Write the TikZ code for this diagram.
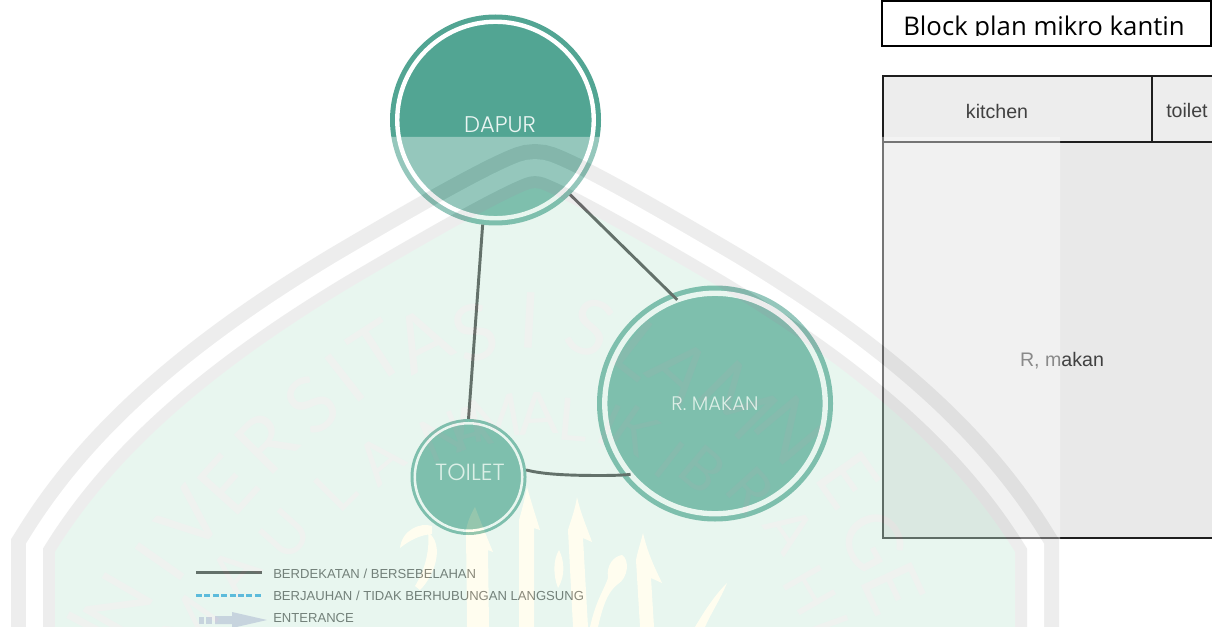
\documentclass[tikz,border=0pt]{standalone}
\usepackage{fontspec}
\setmainfont{Liberation Sans}
\newfontfamily\geofont{Poppins Light}
\newfontfamily\titlefont{Open Sans}
\newfontfamily\wmfont{Lato}
\definecolor{roomgreen}{HTML}{52A593}
\definecolor{roomtext}{HTML}{EAF5F2}
\definecolor{edgedark}{HTML}{272727}
\definecolor{legendtext}{HTML}{404040}
\definecolor{legendblue}{HTML}{1A9FDF}
\definecolor{legendarrow}{HTML}{C9C8E4}
\definecolor{blockdark}{HTML}{1E1E1E}
\definecolor{blockfill}{HTML}{E9E9E9}
\definecolor{cellfill}{HTML}{EDEDED}
\definecolor{blocktext}{HTML}{404040}
\definecolor{wmband}{RGB}{211,211,211}
\definecolor{wminner}{RGB}{196,232,214}
\definecolor{wmletter}{RGB}{216,222,214}
\definecolor{wmyellow}{RGB}{255,252,215}
\tikzset{
  room/.style={circle,fill=roomgreen,inner sep=0pt,outer sep=0pt,minimum size=#1*0.75pt},
  roomring/.style={circle,draw=white,inner sep=0pt,outer sep=0pt,minimum size=#1*0.75pt},
  roomlabel/.style={inner sep=0pt,text=roomtext},
  edgeline/.style={draw=edgedark,line width=2.2pt},
  legendlabel/.style={inner sep=0pt,anchor=west,text=legendtext,font=\fontsize{9.8pt}{11pt}\selectfont},
  blocklabel/.style={inner sep=0pt,text=blocktext,font=\fontsize{14.7pt}{17pt}\selectfont},
  blockline/.style={draw=blockdark,line width=1.8pt},
  wmbig/.style={inner sep=0pt,text=wmletter,font=\wmfont\fontsize{58pt}{58pt}\selectfont},
  wmsmall/.style={inner sep=0pt,text=wmletter,font=\wmfont\fontsize{44pt}{44pt}\selectfont},
}
\def\shieldpath{(55,700) -- (55,552) .. controls (115,455) and (210,372) .. (351,287)
  .. controls (445,231.5) and (504,199) .. (529,189.3)
  .. controls (533,187.8) and (537,187.8) .. (541,189.3)
  .. controls (566,199) and (625,231.5) .. (719,287)
  .. controls (860,372) and (955,455) .. (1015,552) -- (1015,700) -- cycle}
\begin{document}
\begin{tikzpicture}[x=0.75pt,y=-0.75pt]
\useasboundingbox (0,0) rectangle (1212,627);
\fill[white] (0,0) rectangle (1212,627);

% circles
\node[room=211] (dapur) at (495.5,120) {};
\node[roomring=196.5,line width=3.3pt] (dapurin) at (495.5,120) {};
\node[room=236] (rmakan) at (715,403.5) {};
\node[roomring=220.5,line width=4pt] (rmakanin) at (715,403.5) {};
\node[room=116] (toilet) at (468.5,477) {};
\node[roomring=107.5,line width=1.9pt] (toiletin) at (468.5,477) {};

\node[roomlabel,font=\geofont\fontsize{17pt}{20pt}\selectfont] (dapurlabel) at (500,125) {DAPUR};
\node[roomlabel,font=\geofont\fontsize{14.7pt}{17pt}\selectfont] (rmakanlabel) at (715,403.5) {R. MAKAN};
\node[roomlabel,font=\geofont\fontsize{17.5pt}{20pt}\selectfont] (toiletlabel) at (470,472.5) {TOILET};

% connectors
\draw[edgeline] (dapur.263) -- (toilet.90);
\draw[edgeline] (dapur.-45) -- (rmakanin.110);
\draw[edgeline] (toilet.7) .. controls (540,473.5) and (560,475.5) .. (600,475.5) .. controls (615,475.5) and (625,475) .. (rmakanin.220.7);

% legend
\coordinate (solidA) at (196,572.5); \coordinate (solidB) at (262,572.5);
\coordinate (dashA) at (196,595.5); \coordinate (dashB) at (262,595.5);
\draw[draw=edgedark,line width=2.6pt] (solidA) -- (solidB);
\draw[draw=legendblue,line width=2.3pt,dash pattern=on 4.5pt off 1.8pt] (dashA) -- (dashB);
\fill[legendarrow] (199,617) rectangle (204,624);
\fill[legendarrow] (206,617) rectangle (212,624);
\fill[legendarrow] (215,616) -- (232,616) -- (232,612) -- (267,620) -- (232,628) -- (232,624) -- (215,624) -- cycle;
\node[legendlabel] (legendone) at (273,573.5) {BERDEKATAN / BERSEBELAHAN};
\node[legendlabel] (legendtwo) at (273,596) {BERJAUHAN / TIDAK BERHUBUNGAN LANGSUNG};
\node[legendlabel] (legendthree) at (273,618) {ENTERANCE};

% block plan
\node[fill=cellfill,inner sep=0pt,outer sep=0pt,minimum width=269*0.75pt,minimum height=66*0.75pt] (kitchen) at (1017.5,109) {};
\node[fill=cellfill,inner sep=0pt,outer sep=0pt,minimum width=60*0.75pt,minimum height=66*0.75pt] (toiletcell) at (1182,109) {};
\node[fill=blockfill,inner sep=0pt,outer sep=0pt,minimum width=329*0.75pt,minimum height=396*0.75pt] (rblock) at (1047.5,340) {};
\node[blocklabel] (kitchenlabel) at (997,111) {kitchen};
\node[blocklabel,anchor=west] (toiletlabelb) at (1166,110) {toilet};
\node[blocklabel] (rlabel) at (1062,361) {R, makan};
\draw[blockline] (1212,76) -- (883,76) -- (883,538) -- (1212,538);
\draw[blockline] (883,142) -- (1212,142);
\draw[blockline] (1152,76) -- (1152,142);

% title
\node[inner sep=0pt,anchor=base west,font=\titlefont\fontsize{19.3pt}{22pt}\selectfont,text=black] (titletext) at (903,35.5) {Block plan mikro kantin};
\fill[white] (884,36) rectangle (1210,45);
\node[draw=black,line width=1.2pt,inner sep=0pt,outer sep=0pt,minimum width=329*0.75pt,minimum height=45*0.75pt] (titlebox) at (1046.5,23.5) {};

% watermark layer
\begin{scope}
\clip (0,137) rectangle (1060,627);
\begin{scope}[transparency group,opacity=0.39]
\fill[white] (0,137) rectangle (1060,627);
\draw[wmband,line width=66pt,miter limit=20] \shieldpath;
\draw[white,line width=43.5pt,miter limit=20] \shieldpath;
\draw[wmband,line width=18pt,miter limit=20] \shieldpath;
\fill[wminner] \shieldpath;
% calligraphy
\fill[wmyellow] (475,507) .. controls (482,525) and (488,540) .. (493,552) -- (488,550) -- (489,627) -- (467,627) -- (466,530) .. controls (468,520) and (472,512) .. (475,507) -- cycle;
\fill[wmyellow] (527,487) .. controls (532,505) and (537,520) .. (540,530) -- (534,528) -- (534,627) -- (519,627) -- (519,520) .. controls (522,510) and (525,497) .. (527,487) -- cycle;
\fill[wmyellow] (577,497) .. controls (581,515) and (588,530) .. (592,542) -- (583,538) -- (588,627) -- (573,627) -- (568,530) .. controls (571,520) and (575,510) .. (577,497) -- cycle;
\fill[wmyellow] (643,533) .. controls (648,555) and (656,570) .. (662,583) -- (651,578) -- (654,627) -- (640,627) -- (636,560) .. controls (638,550) and (640,545) .. (643,533) -- cycle;
\fill[wmyellow] (400,548) .. controls (402,530) and (420,522) .. (432,526) -- (432,534) .. controls (420,535) and (410,540) .. (400,548) -- cycle;
\fill[wmyellow] (428,532) .. controls (445,545) and (435,575) .. (420,590) -- (415,586) .. controls (425,570) and (430,550) .. (428,532) -- cycle;
\fill[wmyellow] (559,550) .. controls (564,560) and (566,575) .. (558,588) .. controls (553,575) and (553,560) .. (559,550) -- cycle;
\fill[wmyellow] (622,555) .. controls (630,560) and (628,578) .. (618,584) .. controls (610,590) and (604,600) .. (598,627) -- (590,627) .. controls (596,600) and (604,590) .. (608,578) .. controls (606,565) and (614,556) .. (622,555) -- cycle;
\fill[wmyellow] (727,583) .. controls (720,600) and (710,615) .. (705,627) -- (695,627) .. controls (705,610) and (715,595) .. (727,583) -- cycle;
% arc lettering
\foreach \c/\px/\py/\r [count=\i] in {U/85/645/62,N/118/606/60,I/160/562/55,V/190/520/50,E/228/485/48,R/266/443/45,S/312/405/40,I/345/378/38,T/378/352/33,A/422/340/27,S/475/333/18,I/530/320/-3,S/590/328/-22,L/640/350/-38,A/680/370/-42,M/738/400/-45,N/790/430/-50,E/848/480/-55,G/873/540/-62,E/893/588/-65}
  \node[wmbig,rotate=\r] (wmo\i) at (\px,\py) {\c};
\foreach \c/\px/\py/\r [count=\i] in {M/190/625/55,A/235/572/50,U/285/535/48,L/335/490/45,A/380/460/40,N/443/437/22,A/470/428/15,M/495/418/10,A/538/413/3,L/573/420/-5,I/610/425/-25,K/635/430/-35,I/670/460/-38,B/703/470/-40,R/750/490/-48,A/790/530/-55,H/810/590/-60,I/828/625/-70}
  \node[wmsmall,rotate=\r] (wmi\i) at (\px,\py) {\c};
\end{scope}
\end{scope}
\end{tikzpicture}
\end{document}
